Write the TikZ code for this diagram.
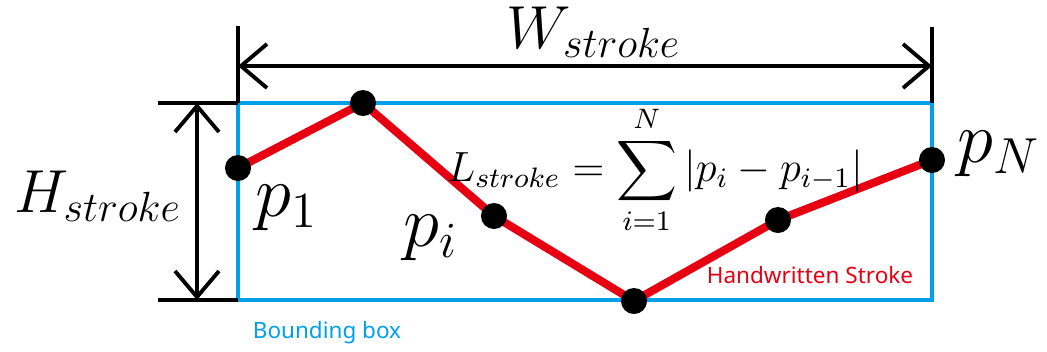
\documentclass[tikz,border=0pt]{standalone}
\usepackage{amsmath}
\usepackage{fontspec}
\usepackage{tikz}
\usetikzlibrary{arrows.meta}
\setsansfont{Noto Sans}
\definecolor{strokered}{RGB}{230,0,18}
\definecolor{boxblue}{RGB}{0,160,233}

\begin{document}
\begin{tikzpicture}[x=0.01cm,y=-0.01cm,
    dimline/.style={line width=1.1pt},
    dimarrow/.style={line width=1.1pt,{Straight Barb[length=2.6mm,width=4.4mm]}-{Straight Barb[length=2.6mm,width=4.4mm]}},
    dot/.style={circle,fill=black,inner sep=0pt,minimum size=2.6mm},
    biglabel/.style={inner sep=0pt,font=\fontsize{17.5}{20}\selectfont},
    ptlabel/.style={inner sep=0pt,font=\fontsize{20}{24}\selectfont},
    smalllabel/.style={inner sep=0pt,font=\sffamily\fontsize{6.4}{7.5}\selectfont}]
    \useasboundingbox (0,0) rectangle (1047,351);
    % bounding box of the stroke
    \coordinate (TL) at (238,103);
    \coordinate (BR) at (932,300);
    \draw [boxblue,line width=1.1pt] (TL) rectangle (BR);
    % dimension lines
    \coordinate (WL) at (238,26);
    \coordinate (WR) at (932,27);
    \coordinate (TR) at (932,103);
    \coordinate (BL) at (238,300);
    \coordinate (HT) at (158,103);
    \coordinate (HB) at (158,300);
    \draw [dimline] (WL)--(TL);
    \draw [dimline] (WR)--(TR);
    \draw [dimline] (HT)--(TL);
    \draw [dimline] (HB)--(BL);
    \draw [dimarrow] (238,66)--(932,66);
    \draw [dimarrow] (197,103)--(197,300);
    % stroke points
    \coordinate (c1) at (238,168);
    \coordinate (c2) at (363,103);
    \coordinate (c3) at (494,216);
    \coordinate (c4) at (634,301);
    \coordinate (c5) at (778,220);
    \coordinate (c6) at (932,160);
    \draw [strokered,line width=2.3pt,line join=round] (c1)--(c2)--(c3)--(c4)--(c5)--(c6);
    \node [dot] (p1) at (c1) {};
    \node [dot] (p2) at (c2) {};
    \node [dot] (pi) at (c3) {};
    \node [dot] (p4) at (c4) {};
    \node [dot] (p5) at (c5) {};
    \node [dot] (pN) at (c6) {};
    % labels
    \node [biglabel] (Wlab) at (594,32) {$W_{stroke}$};
    \node [biglabel] (Hlab) at (98,196) {$H_{stroke}$};
    \node [ptlabel] (p1lab) at (287,208) {$p_1$};
    \node [ptlabel] (pilab) at (431,238) {$p_i$};
    \node [ptlabel] (pNlab) at (999,154) {$p_N$};
    \node [inner sep=0pt,font=\fontsize{12}{14}\selectfont] (Llab) at (655,170)
        {$\displaystyle L_{stroke}=\sum_{i=1}^{N}|p_i-p_{i-1}|$};
    \node [smalllabel,text=strokered] (strokelab) at (810,275) {Handwritten Stroke};
    \node [smalllabel,text=boxblue] (boxlab) at (327,333) {Bounding box};
\end{tikzpicture}
\end{document}
